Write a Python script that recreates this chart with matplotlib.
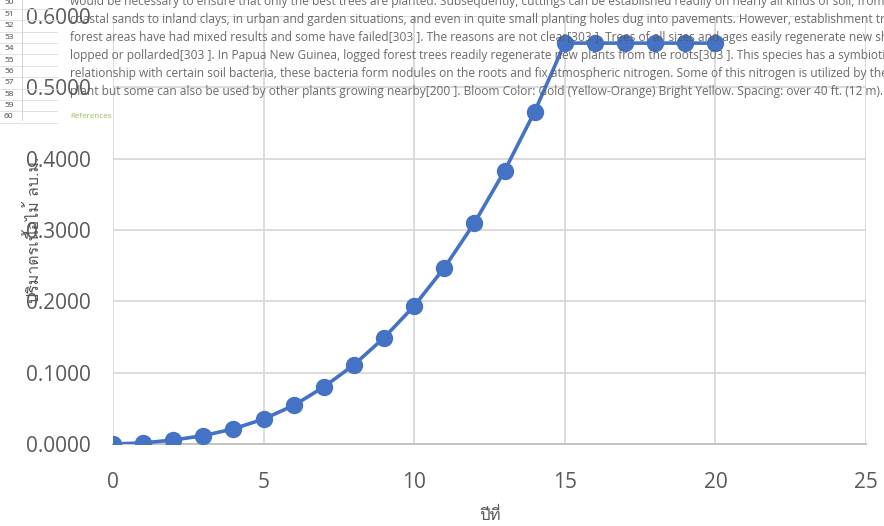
# -*- coding: utf-8 -*-
"""
Wood volume per tree by year (Excel-style line chart over a spreadsheet background)
"""
#%% Import libraries
import matplotlib
matplotlib.use("Agg")
import matplotlib.pyplot as plt
from matplotlib import font_manager
from matplotlib.ft2font import FT2Font

#%% Data
years = list(range(0, 21))
volume = [0.0000, 0.0015, 0.0056, 0.0117, 0.0212, 0.0350, 0.0540, 0.0800,
          0.1110, 0.1490, 0.1936, 0.2470, 0.3100, 0.3830, 0.4660, 0.5620,
          0.5620, 0.5620, 0.5620, 0.5620, 0.5620]
x_ticks = [0, 5, 10, 15, 20, 25]
y_ticks = [0.0, 0.1, 0.2, 0.3, 0.4, 0.5, 0.6]
x_title = "ปีที่"
y_title = "ปริมาตรเนื้อไม้ ลบ.ม."

# Spreadsheet text showing through behind the chart
bg_lines = [
    "would be necessary to ensure that only the best trees are planted. Subsequently, cuttings can be established readily on nearly all kinds of soil, from",
    "coastal sands to inland clays, in urban and garden situations, and even in quite small planting holes dug into pavements. However, establishment trials in",
    "forest areas have had mixed results and some have failed[303 ]. The reasons are not clear[303 ]. Trees of all sizes and ages easily regenerate new shoots when",
    "lopped or pollarded[303 ]. In Papua New Guinea, logged forest trees readily regenerate new plants from the roots[303 ]. This species has a symbiotic",
    "relationship with certain soil bacteria, these bacteria form nodules on the roots and fix atmospheric nitrogen. Some of this nitrogen is utilized by the",
    "plant but some can also be used by other plants growing nearby[200 ]. Bloom Color: Gold (Yellow-Orange) Bright Yellow. Spacing: over 40 ft. (12 m).",
]
row_numbers = list(range(50, 61))

#%% Find a font that has Thai glyphs
def FindThaiFont():
    for f in font_manager.fontManager.ttflist:
        try:
            if 0x0E1B in FT2Font(f.fname).get_charmap():
                return f.name
        except Exception:
            pass
    return "DejaVu Sans"

thai_font = FindThaiFont()
plt.rcParams['font.family'] = ['Open Sans', 'DejaVu Sans']

#%% Figure
W, H = 884, 526
fig = plt.figure(figsize=(W/100, H/100), dpi=100)

# background spreadsheet (figure coords, pixels from top)
for i, n in enumerate(row_numbers):
    yy = 3 + i*11.4
    fig.text(4/W, 1 - yy/H, str(n), fontsize=6, color="#444444", va="center")
    fig.add_artist(plt.Line2D([0, 57/W], [1 - (yy+5.7)/H]*2, color="#dddddd", lw=0.6))
fig.add_artist(plt.Line2D([22/W, 22/W], [1 - 120/H, 1], color="#cccccc", lw=0.6))
for i, line in enumerate(bg_lines):
    yy = 2 + i*17.8
    fig.text(70/W, 1 - yy/H, line, fontsize=8.55, color="#5a5a5a", va="center", alpha=0.9)
fig.text(70/W, 1 - 117/H, "References", fontsize=5.8, color="#9bbb59", va="center")

ax = fig.add_axes([113/W, 82/H, 753/W, 428/H])
ax.patch.set_alpha(0)
ax.plot(years, volume, color="#4472C4", lw=2.6, marker="o", ms=11.5, zorder=3)

ax.set_xlim(0, 25)
ax.set_ylim(0, 0.6)
ax.set_xticks(x_ticks)
ax.set_yticks(y_ticks)
ax.set_yticklabels([f"{v:.4f}" for v in y_ticks])
ax.grid(True, color="#d9d9d9", lw=1.3)
ax.set_axisbelow(True)
for s in ["top", "right", "left"]:
    ax.spines[s].set_visible(False)
ax.spines["bottom"].set_color("#bfbfbf")
ax.spines["bottom"].set_linewidth(1.3)
ax.tick_params(length=0, labelsize=15, labelcolor="#595959")
ax.tick_params(axis="x", pad=20)
ax.tick_params(axis="y", pad=16)

ax.set_xlabel(x_title, fontsize=12, color="#595959", family=[thai_font, 'DejaVu Sans'], labelpad=11)
ax.set_ylabel(y_title, fontsize=11.5, color="#595959", family=[thai_font, 'DejaVu Sans'])
ax.yaxis.set_label_coords(-70/753, 0.5)

fig.savefig("out.png", dpi=100)
